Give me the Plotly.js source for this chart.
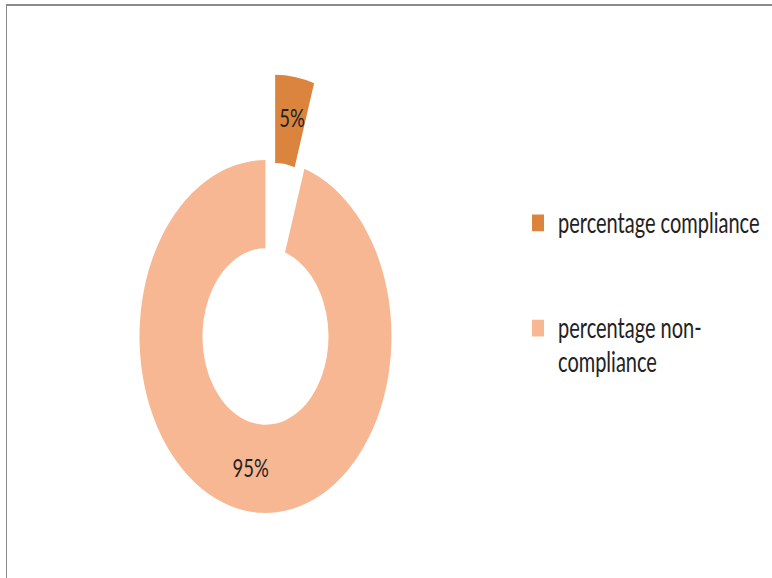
<!DOCTYPE html>
<html>
<head>
<meta charset="utf-8">
<script src="https://cdn.plot.ly/plotly-3.0.1.min.js"></script>
<style>
  html, body { margin: 0; padding: 0; background: #ffffff; }
  #wrap { position: relative; width: 772px; height: 578px; overflow: hidden; background: #ffffff; }
  #frame { position: absolute; left: 6px; top: 4px; width: 770px; height: 580px;
           border-top: 2px solid #8a8a8a; border-left: 1px solid #8a8a8a; box-sizing: border-box; z-index: 2; pointer-events: none; }
  #chart { position: absolute; left: 0; top: 0; width: 772px; height: 500px;
           transform: scaleY(1.4); transform-origin: 0 0; }
</style>
</head>
<body>
<div id="wrap">
  <div id="chart"></div>
  <div id="frame"></div>
</div>
<script>
// ---- data ----
const categories = ['percentage compliance', 'percentage non-compliance'];
const values = [5, 95];
const legendLines = [['percentage compliance'], ['percentage non-', 'compliance']];
const sliceColors = ['#DA843E', '#F8B793'];
const pulls = [0.49, 0];

// legend labels (text size set via span; extra blank lines give the item spacing)
const legendTextSize = 20;
const sliceTextSize = 18.5;
function wrapLine(s) { return "<span style='font-size:" + legendTextSize + "px'>" + s + "</span>"; }
const labels = legendLines.map(function (lines, i) {
  let out = lines.map(wrapLine).join('<br>');
  if (i === 0) out += '<br> <br> ';
  return out;
});

const trace = {
  type: 'pie',
  labels: labels,
  values: values,
  customdata: categories,
  sort: false,
  direction: 'clockwise',
  rotation: 0,
  hole: 0.5,
  pull: pulls,
  marker: { colors: sliceColors, line: { width: 0 } },
  texttemplate: [' <br>%{value}%', '%{value}%'],
  textposition: 'inside',
  insidetextorientation: 'horizontal',
  textfont: { family: 'Lato, sans-serif', size: sliceTextSize, color: '#222222' },
  hoverinfo: 'skip',
  domain: { x: [0.10071, 0.58711], y: [0.11928, 0.91928] }
};

const layout = {
  width: 772,
  height: 500,
  margin: { l: 0, r: 0, t: 0, b: 0 },
  paper_bgcolor: 'rgba(0,0,0,0)',
  plot_bgcolor: 'rgba(0,0,0,0)',
  showlegend: true,
  uniformtext: { mode: 'show', minsize: sliceTextSize },
  legend: {
    x: 0.671, xanchor: 'left',
    y: 0.7186, yanchor: 'top',
    valign: 'top',
    bgcolor: 'rgba(0,0,0,0)',
    font: { family: 'Lato, sans-serif', size: 18.5, color: '#222222' }
  }
};

Plotly.newPlot('chart', [trace], layout, { displayModeBar: false, staticPlot: true });
</script>
</body>
</html>
